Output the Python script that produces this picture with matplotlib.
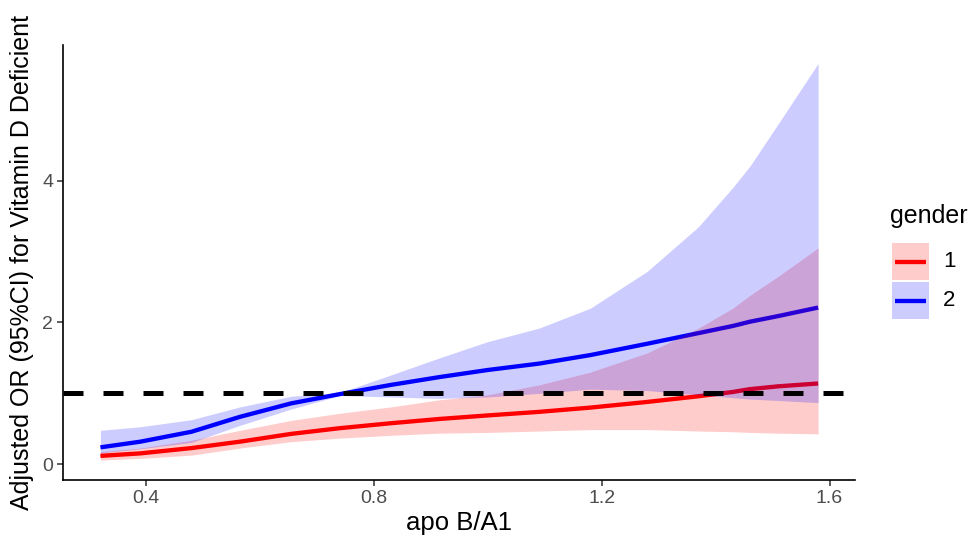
import matplotlib
matplotlib.use("Agg")
import matplotlib.pyplot as plt
from matplotlib.patches import Rectangle
from matplotlib.lines import Line2D

x = [0.32, 0.39, 0.48, 0.565, 0.655, 0.74, 0.83, 0.915, 1.0, 1.09, 1.18, 1.28, 1.37, 1.43, 1.46, 1.51, 1.58]

blue_fit = [0.24, 0.32, 0.46, 0.67, 0.86, 0.99, 1.12, 1.23, 1.33, 1.42, 1.54, 1.70, 1.85, 1.95, 2.01, 2.09, 2.21]
blue_hi = [0.48, 0.53, 0.63, 0.81, 0.96, 1.01, 1.26, 1.50, 1.73, 1.92, 2.20, 2.72, 3.35, 3.90, 4.20, 4.80, 5.65]
blue_lo = [0.16, 0.22, 0.31, 0.55, 0.78, 0.97, 0.95, 0.93, 0.95, 1.00, 1.06, 1.04, 0.98, 0.94, 0.92, 0.90, 0.87]

red_fit = [0.12, 0.155, 0.23, 0.32, 0.43, 0.51, 0.58, 0.64, 0.69, 0.74, 0.80, 0.88, 0.96, 1.02, 1.06, 1.10, 1.14]
red_hi = [0.18, 0.23, 0.34, 0.48, 0.62, 0.72, 0.81, 0.91, 0.98, 1.12, 1.30, 1.57, 1.92, 2.20, 2.38, 2.65, 3.05]
red_lo = [0.06, 0.085, 0.13, 0.23, 0.32, 0.37, 0.41, 0.44, 0.45, 0.47, 0.49, 0.49, 0.47, 0.46, 0.45, 0.44, 0.43]

x_ticks = [0.4, 0.8, 1.2, 1.6]
y_ticks = [0, 2, 4]
ref_line = 1.0
groups = ["1", "2"]
group_colors = ["#FF0000", "#0000FF"]

plt.rcParams['font.family'] = ['Liberation Sans', 'DejaVu Sans']

W, H = 970, 542
fig = plt.figure(figsize=(W / 100, H / 100), dpi=100)
ax = fig.add_axes([0.065, 0.1144, 0.816, 0.8026])

ax.plot(x, red_fit, color=group_colors[0], lw=3.1, zorder=2, solid_capstyle='butt', solid_joinstyle='round')
ax.plot(x, blue_fit, color=group_colors[1], lw=3.1, zorder=2, solid_capstyle='butt', solid_joinstyle='round')
ax.fill_between(x, red_lo, red_hi, color=group_colors[0], alpha=0.2, lw=0, zorder=3)
ax.fill_between(x, blue_lo, blue_hi, color=group_colors[1], alpha=0.2, lw=0, zorder=3)
ax.axhline(ref_line, color='black', lw=3.6, dashes=(4.0, 4.0), zorder=4)

ax.set_xlim(0.2544, 1.644)
ax.set_ylim(-0.22, 5.91)
ax.set_xticks(x_ticks)
ax.set_xticklabels([f"{v:.1f}" for v in x_ticks])
ax.set_yticks(y_ticks)
ax.set_yticklabels([str(v) for v in y_ticks])

for s in ['top', 'right']:
    ax.spines[s].set_visible(False)
for s in ['left', 'bottom']:
    ax.spines[s].set_linewidth(1.2)
    ax.spines[s].set_color('black')
ax.tick_params(axis='both', direction='out', length=4, width=1.1, color='#333333',
               labelsize=14, labelcolor='#4D4D4D', pad=3)

ax.set_xlabel('apo B/A1', fontsize=18.5, color='black', labelpad=3)
ax.set_ylabel('Adjusted OR (95%CI) for Vitamin D Deficient', fontsize=18, color='black', labelpad=6)

# legend drawn in figure pixel layout
def fx(px):
    return px / W

def fy(py):
    return 1 - py / H

fig.text(fx(890), fy(223), 'gender', fontsize=18, va='baseline', ha='left', color='black')
key_left, key_w, key_h = 892, 37, 37
key_tops = [243, 282]
for lab, col, top in zip(groups, group_colors, key_tops):
    fig.add_artist(Rectangle((fx(key_left), fy(top + key_h)), key_w / W, key_h / H,
                             transform=fig.transFigure, facecolor=col, alpha=0.2,
                             edgecolor='none'))
    yc = top + key_h / 2
    fig.add_artist(Line2D([fx(key_left + 3), fx(key_left + key_w - 3)], [fy(yc), fy(yc)],
                          transform=fig.transFigure, color=col, lw=3.1,
                          solid_capstyle='butt'))
    fig.text(fx(943), fy(yc), lab, fontsize=16, va='center', ha='left', color='black')

fig.savefig('out.png', dpi=100)
